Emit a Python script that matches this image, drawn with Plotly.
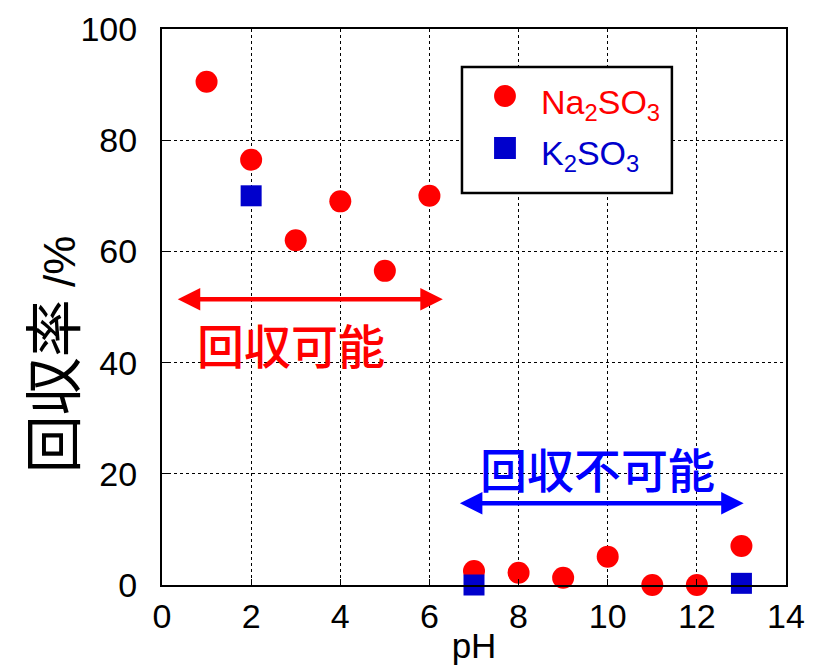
import plotly.graph_objects as go

ph_na = [1, 2, 3, 4, 5, 6, 7, 8, 9, 10, 11, 12, 13]
rec_na = [90.5, 76.5, 62, 69, 56.5, 70, 2.5, 2.2, 1.3, 5.1, 0, 0, 7.0]
ph_k = [2, 7, 13]
rec_k = [70, 0, 0.3]
x_ticks = [0, 2, 4, 6, 8, 10, 12, 14]
y_ticks = [0, 20, 40, 60, 80, 100]
name_na = "Na<sub>2</sub>SO<sub>3</sub>"
name_k = "K<sub>2</sub>SO<sub>3</sub>"

RED = "#ff0000"
BLUE_MK = "#0000cc"
BLUE = "#0000ff"

fig = go.Figure()
fig.add_trace(go.Scatter(x=ph_na, y=rec_na, mode="markers", name=name_na,
                         marker=dict(symbol="circle", size=22, color=RED),
                         cliponaxis=False, showlegend=False))
fig.add_trace(go.Scatter(x=ph_k, y=rec_k, mode="markers", name=name_k,
                         marker=dict(symbol="square", size=21, color=BLUE_MK),
                         cliponaxis=False, showlegend=False))

jp = "Noto Sans CJK JP"
# double-headed arrows
fig.add_annotation(x=6.3, y=51.4, ax=0.32, ay=51.4, xref="x", yref="y", axref="x", ayref="y",
                   text="", showarrow=True, arrowhead=2, startarrowhead=2, arrowside="end+start",
                   arrowwidth=4.5, arrowsize=1.0, startarrowsize=1.0, arrowcolor=RED)
fig.add_annotation(x=13.05, y=14.7, ax=6.65, ay=14.7, xref="x", yref="y", axref="x", ayref="y",
                   text="", showarrow=True, arrowhead=2, startarrowhead=2, arrowside="end+start",
                   arrowwidth=4.5, arrowsize=1.0, startarrowsize=1.0, arrowcolor=BLUE)
fig.add_annotation(x=2.9, y=43.5, xref="x", yref="y", text="回収可能", showarrow=False,
                   font=dict(family=jp, size=47, color=RED, weight=500))
fig.add_annotation(x=9.78, y=21.2, xref="x", yref="y", text="回収不可能", showarrow=False,
                   font=dict(family=jp, size=47, color=BLUE, weight=500))
# y title
fig.add_annotation(x=-0.1795, y=0.415, xref="paper", yref="paper", textangle=-90,
                   xanchor="center", yanchor="middle",
                   text='<span style="font-size:58px">回収率</span>'
                        '<span style="font-family:Liberation Sans, Arial;font-size:44px"> /%</span>',
                   showarrow=False,
                   font=dict(family=jp, size=44, color="black"))

# legend box drawn by hand
fig.add_shape(type="rect", x0=6.73, x1=11.44, y0=70.5, y1=93.17, xref="x", yref="y",
              line=dict(color="black", width=2.5), fillcolor="white", layer="above")
fig.add_shape(type="circle", x0=7.45, x1=7.94, y0=85.97, y1=89.93, xref="x", yref="y",
              line=dict(width=0), fillcolor=RED, layer="above")
fig.add_shape(type="rect", x0=7.45, x1=7.94, y0=76.62, y1=80.58, xref="x", yref="y",
              line=dict(width=0), fillcolor=BLUE_MK, layer="above")
fig.add_annotation(x=8.45, y=86.5, xref="x", yref="y", xanchor="left", yanchor="middle",
                   text=name_na, showarrow=False,
                   font=dict(family="Liberation Sans, Arial", size=34, color=RED))
fig.add_annotation(x=8.45, y=77.2, xref="x", yref="y", xanchor="left", yanchor="middle",
                   text=name_k, showarrow=False,
                   font=dict(family="Liberation Sans, Arial", size=34, color=BLUE_MK))

fig.update_layout(
    width=817, height=672,
    margin=dict(l=154, r=39, t=21, b=95),
    paper_bgcolor="white", plot_bgcolor="white",
    font=dict(family="Liberation Sans, Arial", size=34, color="black"),
    showlegend=False,
)
fig.update_xaxes(range=[0, 14], tickvals=x_ticks, ticks="inside", ticklen=6, tickcolor="black",
                 showline=True, linecolor="black", linewidth=2, mirror=True,
                 showgrid=True, gridcolor="black", griddash="dot", gridwidth=1,
                 zeroline=False, ticklabelstandoff=0, automargin=False,
                 title=dict(text="pH", standoff=0, font=dict(size=35)))
fig.update_yaxes(range=[0, 100], tickvals=y_ticks, ticks="inside", ticklen=6, tickcolor="black",
                 showline=True, linecolor="black", linewidth=2, mirror=True,
                 showgrid=True, gridcolor="black", griddash="dot", gridwidth=1,
                 zeroline=False, ticklabelstandoff=16, automargin=False)
fig.write_html("out.html")
